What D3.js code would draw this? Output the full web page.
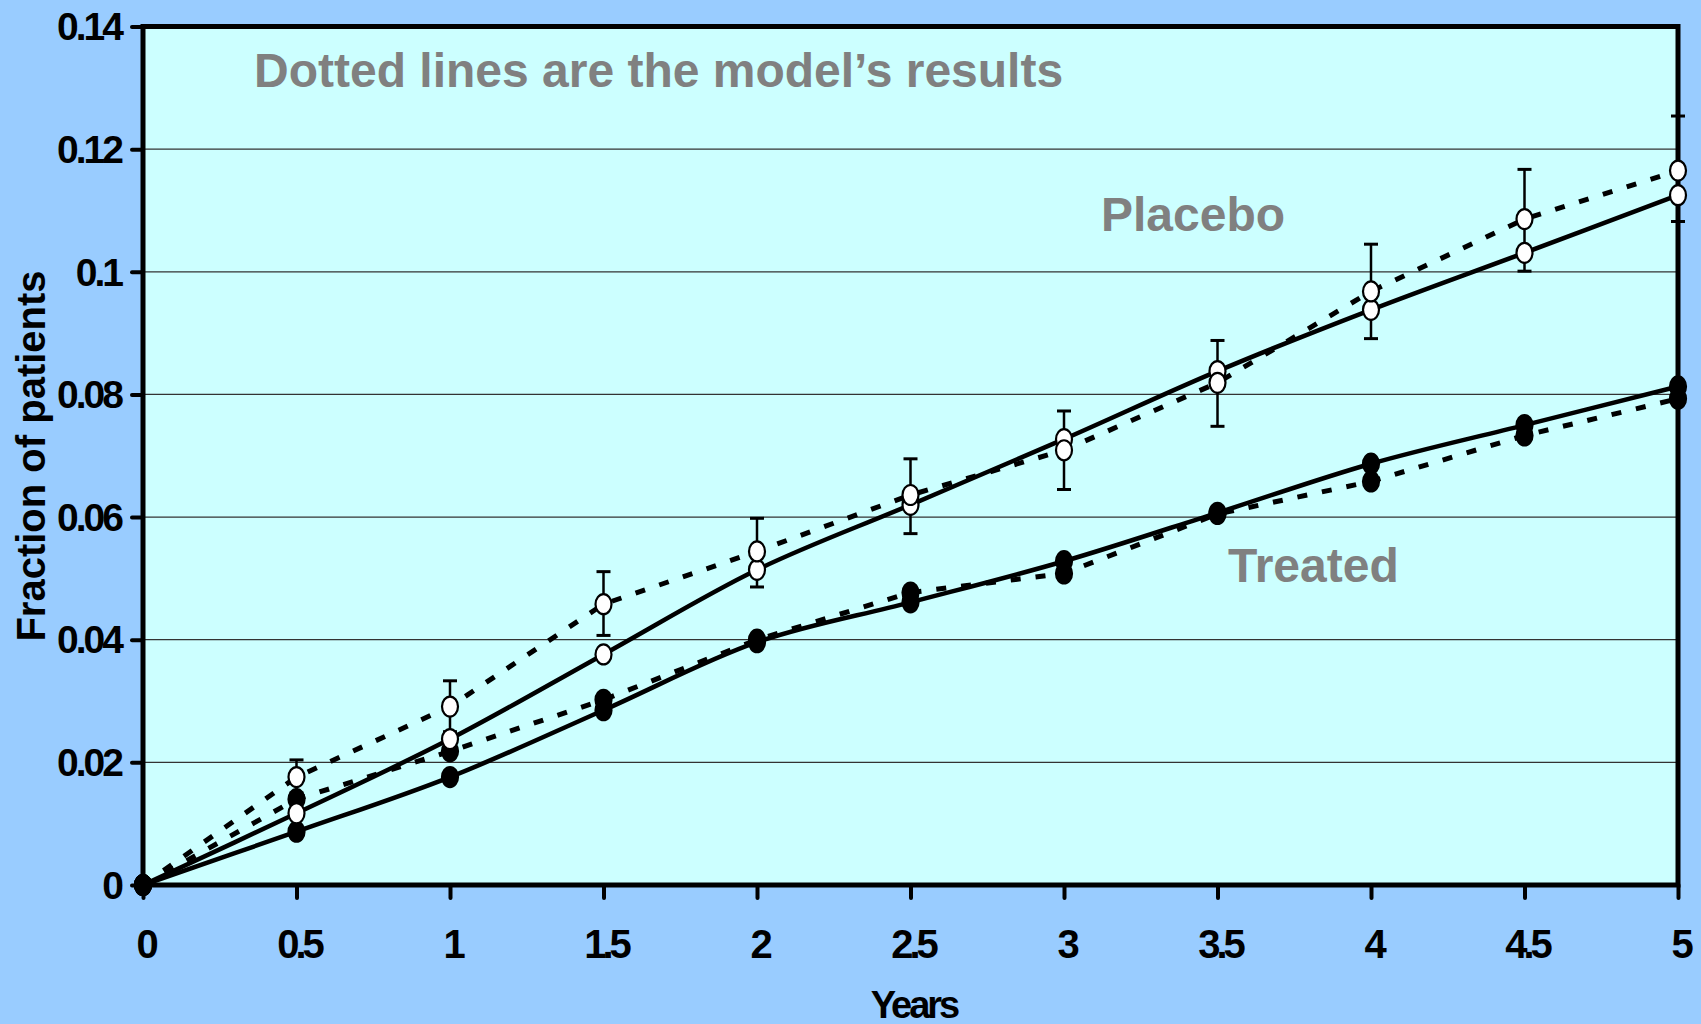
<!DOCTYPE html>
<html>
<head>
<meta charset="utf-8">
<script src="https://cdn.jsdelivr.net/npm/d3@7"></script>
<style>
  body { margin: 0; background: #99ccff; }
  svg { display: block; }
  text { font-family: Arial, "Liberation Sans", sans-serif; font-weight: bold; }
</style>
</head>
<body>
<svg id="chart" width="1701" height="1024"></svg>
<script>
// data
var years = [0, 0.5, 1, 1.5, 2, 2.5, 3, 3.5, 4, 4.5, 5];
var placeboSolid  = [0, 0.0117, 0.0238, 0.0376, 0.0514, 0.0620, 0.0727, 0.0838, 0.0938, 0.1031, 0.1125];
var placeboDotted = [0, 0.0176, 0.0291, 0.0458, 0.0544, 0.0636, 0.0709, 0.0819, 0.0968, 0.1086, 0.1165];
var placeboErrLow  = [0, 0.0150, 0.0250, 0.0407, 0.0486, 0.0573, 0.0645, 0.0748, 0.0891, 0.1001, 0.1082];
var placeboErrHigh = [0, 0.0204, 0.0333, 0.0511, 0.0598, 0.0695, 0.0773, 0.0888, 0.1045, 0.1167, 0.1254];
var treatedSolid  = [0, 0.0087, 0.0176, 0.0285, 0.0396, 0.0461, 0.0528, 0.0607, 0.0687, 0.0750, 0.0813];
var treatedDotted = [0, 0.0140, 0.0218, 0.0302, 0.0400, 0.0477, 0.0508, 0.0605, 0.0658, 0.0733, 0.0793];
var xTicks = [0, 0.5, 1, 1.5, 2, 2.5, 3, 3.5, 4, 4.5, 5];
var yTicks = [0, 0.02, 0.04, 0.06, 0.08, 0.1, 0.12, 0.14];

var svg = d3.select('#chart');
var pLeft = 143, pRight = 1678, pTop = 26.5, pBottom = 885;

var x = d3.scaleLinear().domain([0, 5]).range([pLeft, pRight]);
var y = d3.scaleLinear().domain([0, 0.14]).range([pBottom, pTop]);

svg.append('rect').attr('width', 1701).attr('height', 1024).attr('fill', '#99ccff');
svg.append('rect').attr('x', pLeft).attr('y', pTop).attr('width', pRight - pLeft).attr('height', pBottom - pTop).attr('fill', '#ccffff');

// grid lines
svg.selectAll('.grid').data(yTicks.filter(function (d) { return d > 0 && d < 0.14; }))
  .enter().append('line')
  .attr('x1', pLeft).attr('x2', pRight)
  .attr('y1', function (d) { return y(d); }).attr('y2', function (d) { return y(d); })
  .attr('stroke', '#333').attr('stroke-width', 1.2);

// axes
var yAxis = d3.axisLeft(y).tickValues(yTicks).tickSize(11).tickPadding(10)
  .tickFormat(function (d) { return d === 0 ? '0' : String(+d.toFixed(2)); });
var gy = svg.append('g').attr('transform', 'translate(' + pLeft + ',0)').call(yAxis);
gy.select('.domain').remove();
gy.selectAll('line').attr('stroke', '#000').attr('stroke-width', 4).attr('stroke-linecap', 'round');
gy.selectAll('text').attr('font-size', 39).attr('letter-spacing', '-3px').attr('fill', '#000')
  .attr('dx', -1).attr('dy', '0.34em');

var xAxis = d3.axisBottom(x).tickValues(xTicks).tickSize(13).tickPadding(32)
  .tickFormat(function (d) { return String(d); });
var gx = svg.append('g').attr('transform', 'translate(0,' + pBottom + ')').call(xAxis);
gx.select('.domain').remove();
gx.selectAll('line').attr('stroke', '#000').attr('stroke-width', 4).attr('stroke-linecap', 'round');
gx.selectAll('text').attr('font-size', 40).attr('letter-spacing', '-4px').attr('fill', '#000')
  .attr('dx', 2);

// plot border
svg.append('rect').attr('x', pLeft).attr('y', pTop).attr('width', pRight - pLeft).attr('height', pBottom - pTop)
  .attr('fill', 'none').attr('stroke', '#000').attr('stroke-width', 5);

// axis titles
svg.append('text').attr('x', 914).attr('y', 1018).attr('text-anchor', 'middle')
  .attr('font-size', 38).attr('letter-spacing', '-3px').text('Years');
svg.append('text').attr('transform', 'translate(45,456) rotate(-90)').attr('text-anchor', 'middle')
  .attr('font-size', 40).text('Fraction of patients');

// annotations
svg.append('text').attr('x', 254).attr('y', 87).attr('font-size', 48).attr('fill', '#808080')
  .text('Dotted lines are the model\u2019s results');
svg.append('text').attr('x', 1101).attr('y', 231).attr('font-size', 48).attr('fill', '#808080').text('Placebo');
svg.append('text').attr('x', 1228).attr('y', 582).attr('font-size', 48).attr('fill', '#808080').text('Treated');

function pts(vals) { return years.map(function (d, i) { return [d, vals[i]]; }); }

var solidLine = d3.line().x(function (d) { return x(d[0]); }).y(function (d) { return y(d[1]); })
  .curve(d3.curveCatmullRom.alpha(0.5));
var dotLine = d3.line().x(function (d) { return x(d[0]); }).y(function (d) { return y(d[1]); });

var plot = svg.append('g');
[placeboDotted, treatedDotted].forEach(function (s) {
  plot.append('path').attr('d', dotLine(pts(s))).attr('fill', 'none')
    .attr('stroke', '#000').attr('stroke-width', 5).attr('stroke-dasharray', '10,15');
});
[placeboSolid, treatedSolid].forEach(function (s) {
  plot.append('path').attr('d', solidLine(pts(s))).attr('fill', 'none')
    .attr('stroke', '#000').attr('stroke-width', 4.5);
});

// error bars on the placebo dotted series
for (var i = 1; i < years.length; i++) {
  var xi = x(years[i]), yl = y(placeboErrLow[i]), yh = y(placeboErrHigh[i]);
  plot.append('line').attr('x1', xi).attr('x2', xi).attr('y1', yl).attr('y2', yh)
    .attr('stroke', '#000').attr('stroke-width', 2.5);
  plot.append('line').attr('x1', xi - 7).attr('x2', xi + 7).attr('y1', yl).attr('y2', yl)
    .attr('stroke', '#000').attr('stroke-width', 3);
  plot.append('line').attr('x1', xi - 7).attr('x2', xi + 7).attr('y1', yh).attr('y2', yh)
    .attr('stroke', '#000').attr('stroke-width', 3);
}

function markers(vals, fill) {
  plot.selectAll(null).data(pts(vals)).enter().append('ellipse')
    .attr('cx', function (d) { return x(d[0]); }).attr('cy', function (d) { return y(d[1]); })
    .attr('rx', 8).attr('ry', 10)
    .attr('fill', fill).attr('stroke', '#000').attr('stroke-width', 2.2);
}
markers(treatedDotted, '#000');
markers(treatedSolid, '#000');
markers(placeboSolid, '#fff');
markers(placeboDotted, '#fff');
// origin point drawn filled
plot.append('ellipse').attr('cx', x(0)).attr('cy', y(0)).attr('rx', 8).attr('ry', 10).attr('fill', '#000');
</script>
</body>
</html>
